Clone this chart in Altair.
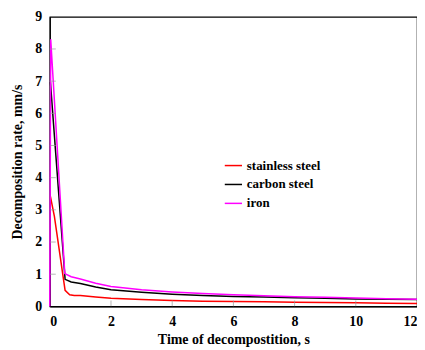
import altair as alt
import pandas as pd

series_names = ["stainless steel", "carbon steel", "iron"]
colors = ["#ff0000", "#000000", "#ff00ff"]

iron_t = [0, 0.03, 0.49, 0.7, 1.0, 1.5, 2, 3, 4, 5, 6, 7, 8, 9, 10, 11, 12]
iron_v = [0, 8.3, 1.02, 0.92, 0.85, 0.72, 0.62, 0.52, 0.45, 0.4, 0.36, 0.33, 0.3, 0.28, 0.26, 0.24, 0.22]

carbon_t = [0.02, 0.5, 0.7, 1.0, 1.5, 2, 3, 4, 5, 6, 7, 8, 9, 10, 11, 12]
carbon_v = [6.97, 0.84, 0.76, 0.71, 0.6, 0.52, 0.44, 0.38, 0.34, 0.31, 0.29, 0.27, 0.25, 0.23, 0.22, 0.21]

steel_t = [0.02, 0.15, 0.5, 0.65, 0.8, 1.0, 1.5, 2, 3, 4, 5, 6, 7, 8, 9, 10, 11, 12]
steel_v = [3.42, 2.8, 0.5, 0.36, 0.34, 0.34, 0.29, 0.25, 0.21, 0.18, 0.16, 0.15, 0.14, 0.13, 0.12, 0.11, 0.1, 0.09]

x_ticks = [0, 2, 4, 6, 8, 10, 12]
y_ticks = [0, 1, 2, 3, 4, 5, 6, 7, 8, 9]

rows = []
for name, ts, vs in [("stainless steel", steel_t, steel_v),
                     ("carbon steel", carbon_t, carbon_v),
                     ("iron", iron_t, iron_v)]:
    for i, (t, v) in enumerate(zip(ts, vs)):
        rows.append({"series": name, "t": t, "v": v, "order": i})
df = pd.DataFrame(rows)

font = "Liberation Serif"

xscale = alt.Scale(domain=[0, 12], nice=False, zero=False)
yscale = alt.Scale(domain=[0, 9], nice=False)

x_axis = alt.Axis(values=x_ticks, title="Time of decompostition,  s", grid=False,
                  tickSize=0, labelPadding=8, format="d", labelOverlap=False)
y_axis = alt.Axis(values=y_ticks, title="Decomposition rate, mm/s", grid=False,
                  tickSize=0, labelPadding=8, titlePadding=10, labelOverlap=False, format="d")

lines = alt.Chart(df).mark_line(strokeWidth=1.5).encode(
    x=alt.X("t:Q", scale=xscale, axis=x_axis),
    y=alt.Y("v:Q", scale=yscale, axis=y_axis),
    color=alt.Color("series:N", scale=alt.Scale(domain=series_names, range=colors),
                    legend=alt.Legend(title=None, orient="none", legendX=175, legendY=140,
                                      symbolType="stroke", symbolSize=300, symbolStrokeWidth=1.5,
                                      labelFont=font, labelFontSize=13, labelFontWeight="bold",
                                      rowPadding=2, labelColor="#000")),
    order="order:Q",
)

tick_df = pd.DataFrame({"t": x_ticks[1:-1]})
xt = alt.Chart(tick_df).mark_tick(color="#999999", size=6, orient="vertical", thickness=1).encode(
    x=alt.X("t:Q", scale=xscale, axis=x_axis), y=alt.value(288)
)
ytick_df = pd.DataFrame({"v": y_ticks[1:-1]})
yt = alt.Chart(ytick_df).mark_tick(color="#999999", size=6, orient="horizontal", thickness=1).encode(
    y=alt.Y("v:Q", scale=yscale, axis=y_axis), x=alt.value(3)
)

chart = alt.layer(lines, xt, yt).properties(
    width=369, height=291,
    autosize=alt.AutoSizeParams(type="none"),
    padding={"left": 42, "top": 8, "right": 0, "bottom": 40},
).configure_view(stroke="#000000", strokeWidth=1.2).configure_axis(
    domainColor="#000000", domainWidth=1.2,
    labelFont=font, labelFontSize=14, labelFontWeight="bold", labelColor="#000",
    titleFont=font, titleFontSize=14, titleFontWeight="bold", titleColor="#000",
).configure_axisX(titlePadding=4)

chart.save("out.html", embed_options={"renderer": "svg", "actions": False})
